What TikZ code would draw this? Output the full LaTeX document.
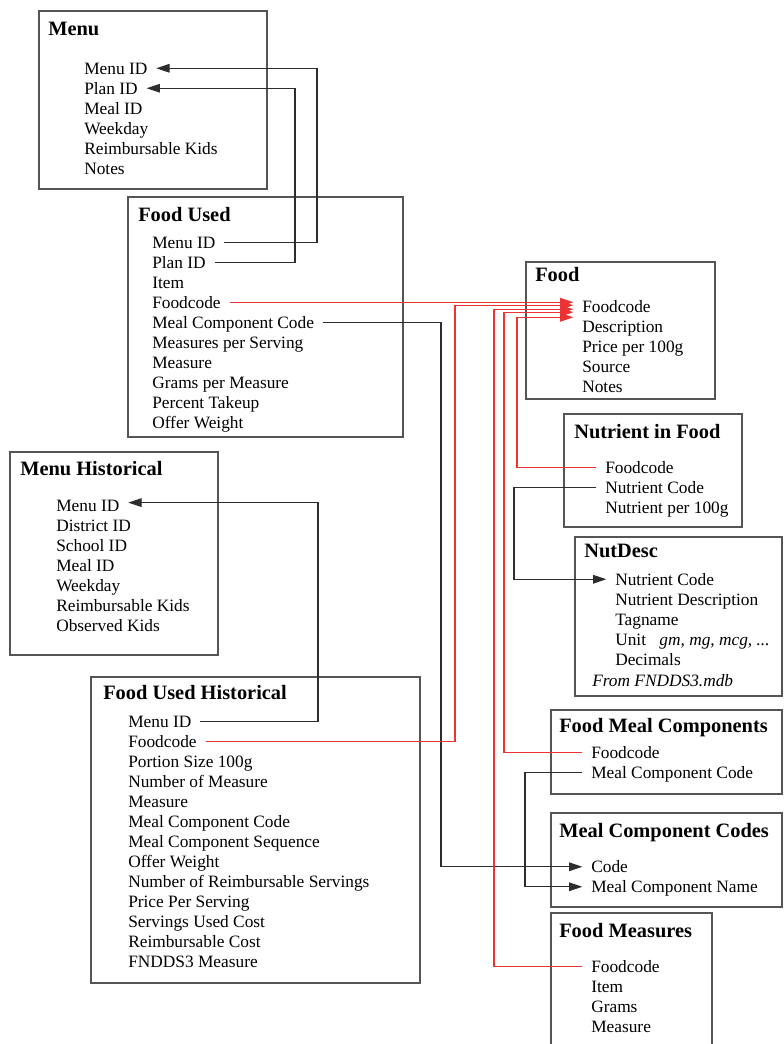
\documentclass[tikz,border=0pt]{standalone}
\usepackage{fontspec}
\setmainfont{Liberation Serif}
\usepackage{tikz}
\usetikzlibrary{fit}
\usetikzlibrary{matrix}
\usetikzlibrary{arrows.meta}
\definecolor{boxgray}{RGB}{85,85,85}
\definecolor{linkgray}{RGB}{45,45,45}
\definecolor{linkred}{RGB}{236,50,50}
\tikzset{
        tablebox/.style={draw=boxgray, line width=1.1pt, inner sep=0pt},
        tabletitle/.style={anchor=base west, inner sep=0pt, font=\bfseries\fontsize{15.3pt}{17pt}\selectfont},
        fields/.style={
          matrix of nodes,
          matrix anchor=north west,
          inner sep=0pt,
          row sep={15pt, between origins},
          nodes={anchor=base west, inner xsep=6.5pt, inner ysep=0pt, text height=10pt, text depth=1pt, font=\fontsize{13pt}{15pt}\selectfont}
          },
        link/.style={draw=linkgray, line width=0.8pt, >={Triangle[length=10pt,width=6.5pt]}},
        redlink/.style={draw=linkred, line width=0.8pt, >={Triangle[length=10pt,width=6.5pt]}},
}
\begin{document}
\begin{tikzpicture}[x=0.75pt, y=-0.75pt]
      \useasboundingbox (0,0) rectangle (783,1044);
      \clip (0,0) rectangle (783,1044);
      % MENU
      \node[tablebox, fit={(39,11) (267,189)}] (menubox) {};
      \node[tabletitle] (menutitle) at (48,36) {Menu};
      \matrix[fields] (menu) at ([xshift=-6.5pt,yshift=10pt]84,74) {
        Menu ID \\
        Plan ID \\
        Meal ID \\
        Weekday \\
        Reimbursable Kids \\
        Notes \\
        };

      % FOOD USED
      \node[tablebox, fit={(128,197) (403,437)}] (fubox) {};
      \node[tabletitle] (futitle) at (138,222) {Food Used};
      \matrix[fields] (fu) at ([xshift=-6.5pt,yshift=10pt]152,248) {
        Menu ID \\
        Plan ID \\
        Item \\
        Foodcode \\
        Meal Component Code \\
        Measures per Serving \\
        Measure \\
        Grams per Measure \\
        Percent Takeup \\
        Offer Weight \\
        };

      % MENU HISTORICAL
      \node[tablebox, fit={(10,452) (218,655)}] (mhbox) {};
      \node[tabletitle] (mhtitle) at (20,475) {Menu Historical};
      \matrix[fields] (mh) at ([xshift=-6.5pt,yshift=10pt]56,511) {
        Menu ID \\
        District ID \\
        School ID \\
        Meal ID \\
        Weekday \\
        Reimbursable Kids \\
        Observed Kids \\
        };

      % FOOD USED HISTORICAL
      \node[tablebox, fit={(91,677) (420,983)}] (fuhbox) {};
      \node[tabletitle] (fuhtitle) at (103,699) {Food Used Historical};
      \matrix[fields] (fuh) at ([xshift=-6.5pt,yshift=10pt]128,727) {
        Menu ID \\
        Foodcode \\
        Portion Size 100g \\
        Number of Measure \\
        Measure \\
        Meal Component Code \\
        Meal Component Sequence \\
        Offer Weight \\
        Number of Reimbursable Servings \\
        Price Per Serving \\
        Servings Used Cost \\
        Reimbursable Cost \\
        FNDDS3 Measure \\
        };

      % FOOD
      \node[tablebox, fit={(526,262) (715,399)}] (foodbox) {};
      \node[tabletitle] (foodtitle) at (535,282) {Food};
      \matrix[fields] (food) at ([xshift=-6.5pt,yshift=10pt]582,312.5) {
        Foodcode \\
        Description \\
        Price per 100g \\
        Source \\
        Notes \\
        };

      % NUTRIENT IN FOOD
      \node[tablebox, fit={(564,414) (742,527)}] (nifbox) {};
      \node[tabletitle] (niftitle) at (574,438) {Nutrient in Food};
      \matrix[fields] (nif) at ([xshift=-6.5pt,yshift=10pt]605,473) {
        Foodcode \\
        Nutrient Code \\
        Nutrient per 100g \\
        };

      % NUTDESC
      \node[tablebox, fit={(575,537) (782,696)}] (ndbox) {};
      \node[tabletitle] (ndtitle) at (584,557) {NutDesc};
      \matrix[fields] (nd) at ([xshift=-6.5pt,yshift=10pt]615,585) {
        Nutrient Code \\
        Nutrient Description \\
        Tagname \\
        Unit\hspace{10pt}\textit{gm, mg, mcg, ...} \\
        Decimals \\
        };
      \node[anchor=base west, inner sep=0pt, font=\itshape\fontsize{13pt}{15pt}\selectfont] (ndsource) at (592,686) {From FNDDS3.mdb};

      % FOOD MEAL COMPONENTS
      \node[tablebox, fit={(551,710) (782,794)}] (fmcbox) {};
      \node[tabletitle] (fmctitle) at (559,732) {Food Meal Components};
      \matrix[fields] (fmc) at ([xshift=-6.5pt,yshift=10pt]591,758) {
        Foodcode \\
        Meal Component Code \\
        };

      % MEAL COMPONENT CODES
      \node[tablebox, fit={(551,813) (782,907)}] (mccbox) {};
      \node[tabletitle] (mcctitle) at (559,837) {Meal Component Codes};
      \matrix[fields] (mcc) at ([xshift=-6.5pt,yshift=10pt]591,872.5) {
        Code \\
        Meal Component Name \\
        };

      % FOOD MEASURES
      \node[tablebox, fit={(551,913) (712,1060)}] (fmbox) {};
      \node[tabletitle] (fmtitle) at (559,937) {Food Measures};
      \matrix[fields] (fm) at ([xshift=-6.5pt,yshift=10pt]591,972) {
        Foodcode \\
        Item \\
        Grams \\
        Measure \\
        };

      % WIRING
      % channels
      \coordinate (menuch) at (317,0);
      \coordinate (planch) at (295,0);
      \coordinate (histch) at (318,0);
      \coordinate (mcodech) at (441,0);
      \coordinate (mnamech) at (525,0);
      \coordinate (nutch) at (514,0);
      \coordinate (fuhch) at (455,0);
      \coordinate (fmch) at (494,0);
      \coordinate (fmcch) at (504,0);
      \coordinate (nifch) at (517,0);
      % food used to menu
      \draw[link, ->] (fu-1-1.east) -- (fu-1-1.east -| menuch) -- (menu-1-1.east -| menuch) -- (menu-1-1.east);
      \draw[link, ->] (fu-2-1.east) -- (fu-2-1.east -| planch) -- (menu-2-1.east -| planch) -- (menu-2-1.east);
      % food used historical to menu historical
      \draw[link, ->] (fuh-1-1.east) -- (fuh-1-1.east -| histch) -- ([yshift=2pt]mh-1-1.east -| histch) -- ([yshift=2pt]mh-1-1.east);
      % meal component codes
      \draw[link, ->] (fu-5-1.east) -- (fu-5-1.east -| mcodech) -- (mcc-1-1.west -| mcodech) -- (mcc-1-1.west);
      \draw[link, ->] (fmc-2-1.west) -- (fmc-2-1.west -| mnamech) -- (mcc-2-1.west -| mnamech) -- (mcc-2-1.west);
      % nutrient code
      \draw[link, ->] (nif-2-1.west) -- (nif-2-1.west -| nutch) -- (nd-1-1.west -| nutch) -- (nd-1-1.west);
      % foodcode wires
      \draw[redlink, ->] (fu-4-1.east) -- (fu-4-1.east -| food-1-1.west);
      \draw[redlink, ->] (fuh-2-1.east) -- (fuh-2-1.east -| fuhch) -- ([yshift=1.1pt]food-1-1.west -| fuhch) -- ([yshift=1.1pt]food-1-1.west);
      \draw[redlink, ->] (fm-1-1.west) -- (fm-1-1.west -| fmch) -- ([yshift=-1.9pt]food-1-1.west -| fmch) -- ([yshift=-1.9pt]food-1-1.west);
      \draw[redlink, ->] (fmc-1-1.west) -- (fmc-1-1.west -| fmcch) -- ([yshift=-4.1pt]food-1-1.west -| fmcch) -- ([yshift=-4.1pt]food-1-1.west);
      \draw[redlink, ->] (nif-1-1.west) -- (nif-1-1.west -| nifch) -- ([yshift=-7.9pt]food-1-1.west -| nifch) -- ([yshift=-7.9pt]food-1-1.west);
\end{tikzpicture}
\end{document}
